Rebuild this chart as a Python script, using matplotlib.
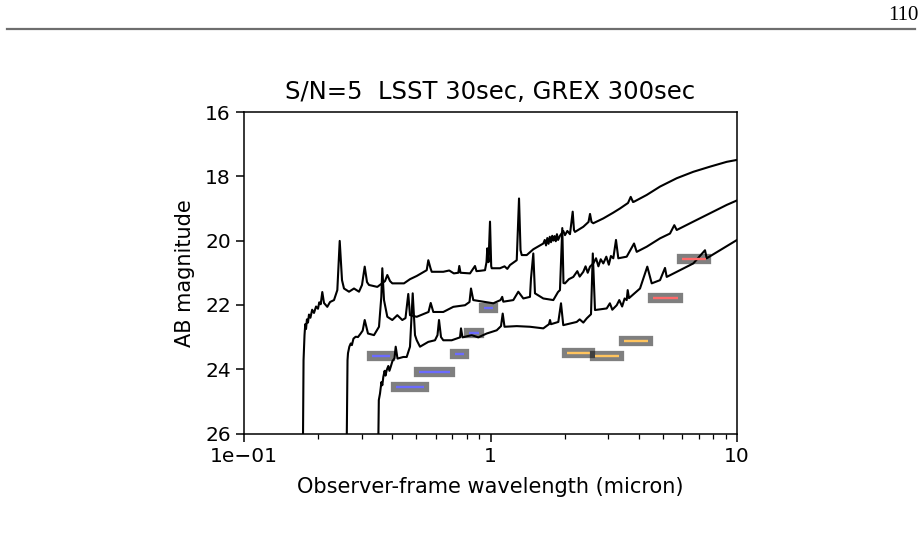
import matplotlib
matplotlib.use("Agg")
from matplotlib import pyplot as plt
from matplotlib.lines import Line2D
from matplotlib.ticker import FixedLocator, FixedFormatter, LogLocator, NullFormatter

# galaxy template seen at three redshifts (observer-frame micron, AB mag)
wl_z1 = [0.1732, 0.1744, 0.1760, 0.1772, 0.1785, 0.1800, 0.1818, 0.1835, 0.1860, 0.1890,
         0.1923, 0.1960, 0.1996, 0.2020, 0.2047, 0.2078, 0.2111, 0.2177, 0.2234, 0.2318,
         0.2391, 0.2445, 0.2498, 0.2545, 0.2667, 0.2794, 0.2928, 0.3011, 0.3088, 0.3155,
         0.3214, 0.3474, 0.3733, 0.3814, 0.3912, 0.3996, 0.4457, 0.4714, 0.5021, 0.5511,
         0.5594, 0.5710, 0.5775, 0.6434, 0.68, 0.71, 0.7404, 0.7472, 0.7556, 0.8257,
         0.8651, 0.8773, 0.9066, 0.9500, 0.9634, 0.9705, 0.9815, 0.9954, 1.0065, 1.0113,
         1.0926, 1.14, 1.17, 1.1998, 1.2777, 1.3053, 1.3238, 1.3388, 1.4028, 1.4916,
         1.6377, 1.66, 1.68, 1.70, 1.72, 1.74, 1.76, 1.78, 1.7982, 1.82,
         1.84, 1.86, 1.88, 1.9133, 1.9734, 2.0050, 2.05, 2.1011, 2.1550, 2.1810,
         2.2017, 2.3797, 2.4982, 2.5336, 2.5689, 2.6122, 2.8686, 3.1491, 3.3531, 3.6129,
         3.7057, 3.7860, 3.8219, 4.3023, 4.8721, 5.6948, 6.6483, 7.7714, 9.0826, 10.0]
mag_z1 = [27.0, 23.72, 22.94, 22.60, 22.75, 22.45, 22.55, 22.30, 22.40, 22.15,
          22.25, 22.05, 22.12, 21.92, 21.98, 21.60, 21.94, 22.06, 21.91, 21.85,
          21.54, 20.01, 21.23, 21.49, 21.59, 21.49, 21.59, 21.38, 20.81, 21.29,
          21.38, 21.44, 21.26, 21.07, 21.26, 21.33, 21.33, 21.20, 21.10, 20.92,
          20.61, 20.86, 20.97, 20.97, 20.93, 21.02, 21.00, 20.79, 21.00, 21.02,
          20.79, 20.95, 20.94, 20.92, 20.67, 20.24, 20.67, 19.41, 20.79, 20.86,
          20.86, 20.80, 20.88, 20.76, 20.61, 18.69, 20.30, 20.45, 20.45, 20.27,
          20.09, 19.98, 20.15, 19.92, 20.10, 19.88, 20.05, 19.85, 20.00, 19.86,
          20.02, 19.80, 19.98, 19.85, 19.70, 19.83, 19.70, 19.80, 19.10, 19.67,
          19.73, 19.57, 19.42, 19.17, 19.42, 19.46, 19.31, 19.13, 19.00, 18.83,
          18.64, 18.80, 18.79, 18.58, 18.32, 18.06, 17.86, 17.70, 17.55, 17.49]

wl_z2 = [0.2605, 0.2630, 0.2642, 0.2675, 0.2710, 0.2740, 0.2780, 0.2838, 0.2900, 0.2974,
         0.3030, 0.3088, 0.3184, 0.3368, 0.3529, 0.3606, 0.3640, 0.3698, 0.3814, 0.3996,
         0.4187, 0.4387, 0.4520, 0.4639, 0.4714, 0.5021, 0.5604, 0.5721, 0.5861, 0.6434,
         0.7066, 0.7880, 0.8219, 0.8334, 0.8514, 0.9350, 1.0266, 1.0980, 1.1156, 1.1270,
         1.2374, 1.2966, 1.3589, 1.4459, 1.4596, 1.4916, 1.5151, 1.6377, 1.7982, 1.8787,
         1.9133, 1.9553, 1.9771, 2.0050, 2.08, 2.1670, 2.25, 2.30, 2.3797, 2.43,
         2.48, 2.5336, 2.6122, 2.68, 2.74, 2.80, 2.8686, 2.95, 3.02, 3.08,
         3.1491, 3.2293, 3.2999, 3.5690, 3.8219, 3.9183, 4.3023, 4.8721, 5.3481, 5.5676,
         5.6948, 6.6483, 7.7714, 9.0826, 10.0]
mag_z2 = [27.0, 23.72, 23.50, 23.30, 23.20, 23.25, 23.05, 22.99, 23.00, 22.89,
          22.80, 22.47, 22.89, 22.94, 22.68, 21.75, 20.86, 21.85, 22.37, 22.47,
          22.32, 22.47, 22.41, 21.66, 22.32, 22.37, 22.22, 21.94, 22.22, 22.22,
          22.06, 22.01, 21.91, 21.49, 21.85, 21.90, 21.95, 21.85, 21.75, 21.90,
          21.85, 21.59, 21.80, 21.75, 21.18, 20.40, 21.64, 21.80, 21.85, 21.60,
          21.54, 19.61, 21.32, 21.33, 21.20, 21.13, 20.95, 21.12, 20.97, 20.80,
          21.00, 20.81, 20.71, 20.55, 20.80, 20.58, 20.71, 20.50, 20.75, 20.48,
          20.55, 19.98, 20.55, 20.50, 20.09, 20.35, 20.19, 19.93, 19.78, 19.52,
          19.67, 19.41, 19.15, 18.89, 18.75]

wl_z3 = [0.3497, 0.3523, 0.3562, 0.3610, 0.3640, 0.3674, 0.3720, 0.3750, 0.3792, 0.3850,
         0.3890, 0.3936, 0.4000, 0.4078, 0.4125, 0.4195, 0.4428, 0.4571, 0.4714, 0.4835,
         0.4940, 0.5021, 0.5176, 0.5594, 0.5954, 0.6095, 0.6182, 0.6298, 0.6434, 0.6960,
         0.7521, 0.7592, 0.7698, 0.8389, 0.8923, 0.9652, 1.0596, 1.1030, 1.1208, 1.1398,
         1.2777, 1.4459, 1.6377, 1.7270, 1.7434, 1.7595, 1.8841, 1.9320, 1.9734, 2.2372,
         2.30, 2.38, 2.4564, 2.5569, 2.6002, 2.6540, 2.9607, 3.05, 3.12, 3.2509,
         3.33, 3.42, 3.50, 3.5690, 3.6024, 3.6467, 4.0412, 4.3260, 4.5084, 4.8721,
         5.1041, 5.1858, 5.8722, 6.6483, 7.4165, 7.5355, 8.5310, 10.0]
mag_z3 = [27.0, 24.96, 24.76, 24.40, 24.50, 24.24, 24.05, 24.20, 24.03, 23.90,
          24.05, 23.93, 23.75, 23.66, 23.30, 23.67, 23.62, 23.62, 23.30, 21.64,
          22.94, 23.10, 23.30, 23.15, 23.10, 22.94, 22.47, 23.00, 23.10, 23.10,
          23.01, 22.73, 23.01, 22.94, 23.01, 22.89, 22.79, 22.66, 22.27, 22.68,
          22.66, 22.68, 22.73, 22.60, 22.47, 22.60, 22.53, 21.95, 22.63, 22.53,
          22.45, 22.55, 22.42, 22.29, 20.40, 22.16, 22.11, 21.95, 22.15, 22.01,
          21.85, 22.05, 21.80, 21.85, 21.54, 21.79, 21.49, 20.81, 21.33, 21.23,
          20.85, 21.13, 20.92, 20.71, 20.30, 20.55, 20.30, 19.98]

# S/N=5 depths per band (LSST ugrizy, then GREX bands)
band_lo = [0.3296, 0.4125, 0.5129, 0.718, 0.818, 0.941, 2.043, 2.655, 3.47, 4.57, 6.0]
band_hi = [0.391, 0.5387, 0.685, 0.783, 0.901, 1.027, 2.541, 3.311, 4.365, 5.74, 7.46]
band_mag = [23.60, 24.55, 24.09, 23.52, 22.87, 22.11, 23.50, 23.60, 23.11, 21.80, 20.58]
band_color = ["#6b6bff"] * 6 + ["#ffc45e"] * 3 + ["#ff6a6a"] * 2

x_ticks = [0.1, 1, 10]
x_tick_labels = ["1e\u221201", "1", "10"]
y_ticks = [16, 18, 20, 22, 24, 26]

fig = plt.figure(figsize=(9.21, 5.57), dpi=100)

# page header of the document the figure sits in
fig.text(0.997, 1 - 15 / 557, "110", ha="right", va="center",
         family="Liberation Serif", fontsize=15)
fig.add_artist(Line2D([7 / 921, 915 / 921], [1 - 28.5 / 557] * 2,
                      color="#6e6e6e", lw=1.6))

ax = fig.add_axes([244 / 921, 1 - 433.5 / 557, 493 / 921, 321.5 / 557])

for wl, mag in ((wl_z1, mag_z1), (wl_z2, mag_z2), (wl_z3, mag_z3)):
    ax.plot(wl, mag, color="black", lw=1.5)

for lo, hi, m, c in zip(band_lo, band_hi, band_mag, band_color):
    ax.plot([lo, hi], [m, m], color="black", alpha=0.5, lw=7.4,
            solid_capstyle="projecting")
    ax.plot([lo, hi], [m, m], color=c, lw=1.7, solid_capstyle="butt")

ax.set_xscale("log")
ax.set_xlim(0.1, 10)
ax.set_ylim(26, 16)
ax.xaxis.set_major_locator(FixedLocator(x_ticks))
ax.xaxis.set_major_formatter(FixedFormatter(x_tick_labels))
ax.xaxis.set_minor_locator(LogLocator(base=10, subs=range(2, 10)))
ax.xaxis.set_minor_formatter(NullFormatter())
ax.set_yticks(y_ticks)

ax.tick_params(which="major", length=6, width=1.1, labelsize=14.5)
ax.tick_params(which="minor", length=3.6, width=0.9)
for s in ax.spines.values():
    s.set_linewidth(1.1)

ax.set_title("S/N=5  LSST 30sec, GREX 300sec", fontsize=17.5, pad=9)
ax.set_xlabel("Observer-frame wavelength (micron)", fontsize=15, labelpad=8)
ax.set_ylabel("AB magnitude", fontsize=15, labelpad=7)

fig.savefig("out.png", dpi=100)
